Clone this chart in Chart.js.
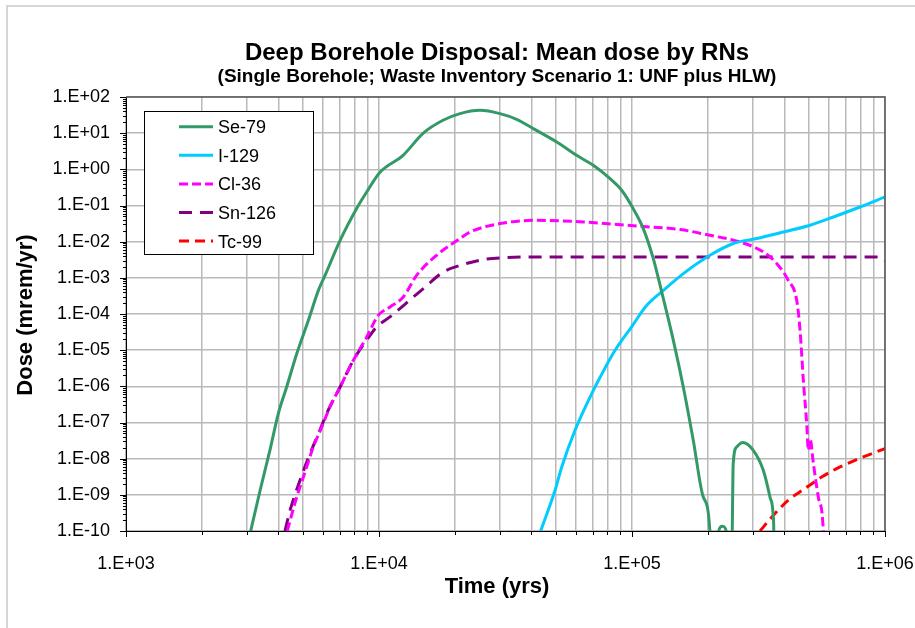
<!DOCTYPE html>
<html>
<head>
<meta charset="utf-8">
<script src="https://cdn.jsdelivr.net/npm/chart.js@4/dist/chart.umd.min.js"></script>
<style>
  html, body { margin: 0; padding: 0; background: #ffffff; }
  #wrap { width: 915px; height: 628px; }
</style>
</head>
<body>
<div id="wrap"><canvas id="c" width="915" height="628"></canvas></div>
<script>
// ---- text ----
const chartTitle = 'Deep Borehole Disposal: Mean dose by RNs';
const chartSubtitle = '(Single Borehole; Waste Inventory Scenario 1: UNF plus HLW)';
const xAxisTitle = 'Time (yrs)';
const yAxisTitle = 'Dose (mrem/yr)';
const xTickLabels = ['1.E+03', '1.E+04', '1.E+05', '1.E+06'];
const yTickLabels = ['1.E-10', '1.E-09', '1.E-08', '1.E-07', '1.E-06', '1.E-05', '1.E-04',
                     '1.E-03', '1.E-02', '1.E-01', '1.E+00', '1.E+01', '1.E+02'];
const seriesNames = ['Se-79', 'I-129', 'Cl-36', 'Sn-126', 'Tc-99'];

// ---- mean dose (mrem/yr) versus time (yrs) ----
const se79Time = [3110, 3390, 3705, 4000, 4315, 4730, 5260, 5760, 6120, 7020, 8170, 8940, 10090,
  12450, 14930, 17900, 20900, 25060, 30060, 35000, 40700, 50400, 60400, 70300, 81900, 91000,
  101100, 110800, 121400, 131000, 145600, 159500, 174700, 191300, 203400, 207000, 215000,
  219200, 228100, 236500, 240000, 246000, 249000, 251200, 259200, 273700, 301500, 330300,
  351000, 361900, 363500, 366000];
const se79Dose = [1e-10, 1.34e-9, 1.7e-8, 1.77e-7, 9.6e-7, 8e-6, 6.7e-5, 4.5e-4, 1.17e-3, 1.09e-2,
  8.4e-2, 0.236, 0.83, 2.44, 9.9, 22.7, 34.8, 42.9, 34.8, 24.2, 13.4, 5.7, 2.44, 1.29, 0.55, 0.264,
  0.082, 0.023, 3.4e-3, 4.1e-4, 1.9e-5, 9.6e-7, 3.2e-8, 8.7e-10, 9e-11, 1e-13, 1e-13,
  9e-11, 1.35e-10, 9e-11, 1e-13, 1e-13, 9e-11, 7.3e-9, 2.1e-8, 2.8e-8, 1.7e-8, 4.8e-9,
  8.7e-10, 2.4e-10, 9e-11, 1e-13];

const i129Time = [43550, 49640, 52760, 59540, 69330, 74800, 85700, 99800, 114400, 133000,
  159600, 203400, 251300, 311000, 396300, 505400, 625000, 796000, 1000000];
const i129Dose = [1e-10, 1.34e-9, 5.9e-9, 6.1e-8, 6.3e-7, 1.78e-6, 9.9e-6, 4.5e-5, 1.74e-4, 4.5e-4,
  1.31e-3, 4.2e-3, 8.9e-3, 1.22e-2, 1.85e-2, 2.84e-2, 4.8e-2, 9.1e-2, 0.172];

const cl36Time = [4340, 4730, 5025, 5500, 5940, 6400, 7020, 7910, 8940, 9930, 11050, 12470,
  14080, 16890, 20900, 22900, 30060, 42000, 64200, 104500, 155000, 203400, 267000, 330300,
  373000, 414700, 447800, 461600, 475600, 490400, 497800, 505400, 521200, 545000, 570400, 580000];
const cl36Dose = [1e-10, 8.7e-10, 3.1e-9, 2.1e-8, 7.5e-8, 2.7e-7, 9.6e-7, 5.2e-6, 2.3e-5, 9.2e-5,
  1.56e-4, 2.96e-4, 1.17e-3, 4.2e-3, 1.22e-2, 1.85e-2, 3.16e-2, 3.9e-2, 3.5e-2, 2.7e-2, 2.16e-2,
  1.5e-2, 9.8e-3, 5.2e-3, 2.5e-3, 8.5e-4, 2.4e-4, 3.5e-5, 1.47e-6, 9.3e-8, 1.7e-8, 3.6e-8,
  7.3e-9, 8.7e-10, 1e-10, 1e-12];

const sn126Time = [4250, 4450, 4870, 5340, 5840, 6210, 7020, 7910, 8940, 9790, 11050, 13680,
  14970, 17950, 20900, 25830, 30970, 40000, 960000, 1000000];
const sn126Dose = [1e-10, 3.7e-10, 2.5e-9, 1.38e-8, 6.1e-8, 1.77e-7, 9.6e-7, 5.2e-6, 1.9e-5, 4.4e-5,
  8.3e-5, 2.96e-4, 5.0e-4, 1.45e-3, 2.2e-3, 3.2e-3, 3.6e-3, 3.77e-3, 3.77e-3, 3.05e-3];

const tc99Time = [320600, 356500, 414700, 482800, 561800, 664000, 760600, 1000000];
const tc99Dose = [1e-10, 2.4e-10, 7.1e-10, 1.5e-9, 3.1e-9, 5.9e-9, 9.0e-9, 1.9e-8];

// ---- styling ----
const FONT = 'Arial, "Liberation Sans", sans-serif';
const GRID = '#b9b9b9';

function pairs(t, d) { return t.map((x, i) => ({ x: x, y: d[i] })); }
function series(name, t, d, color, dash) {
  return {
    label: name, data: pairs(t, d), borderColor: color, backgroundColor: color,
    borderWidth: 3, borderDash: dash, borderCapStyle: 'butt', borderJoinStyle: 'round',
    pointRadius: 0, pointHoverRadius: 0, fill: false, cubicInterpolationMode: 'monotone'
  };
}

function isDecade(v) {
  const l = Math.log10(v);
  return Math.abs(l - Math.round(l)) < 1e-9;
}

// tick positions: decades on the dose axis, 1..9 per decade on the time axis
const xTickValues = [];
for (let e = 3; e <= 6; e++) {
  for (let k = 1; k <= 9; k++) {
    const v = k * Math.pow(10, e);
    if (v <= 1e6) xTickValues.push(v);
  }
}
const yTickValues = [];
for (let e = -10; e <= 2; e++) yTickValues.push(Number('1e' + e));

const decorPlugin = {
  id: 'decor',
  beforeDraw(chart) {
    const ctx = chart.ctx;
    ctx.save();
    ctx.fillStyle = '#ffffff';
    ctx.fillRect(0, 0, chart.width, chart.height);
    // outer frame (left and top edges)
    ctx.strokeStyle = '#d6d6d6';
    ctx.lineWidth = 2;
    ctx.beginPath();
    ctx.moveTo(7, chart.height);
    ctx.lineTo(7, 6);
    ctx.lineTo(chart.width, 6);
    ctx.stroke();
    ctx.restore();
  },
  afterDraw(chart) {
    const ctx = chart.ctx;
    const a = chart.chartArea;
    const xs = chart.scales.x, ys = chart.scales.y;
    ctx.save();

    // plot frame top and right
    ctx.strokeStyle = '#555555';
    ctx.lineWidth = 1.5;
    ctx.beginPath();
    ctx.moveTo(a.left, a.top);
    ctx.lineTo(a.right, a.top);
    ctx.lineTo(a.right, a.bottom);
    ctx.stroke();

    // tick marks
    ctx.strokeStyle = '#000000';
    ctx.lineWidth = 1;
    ctx.beginPath();
    xTickValues.forEach(v => {
      const px = Math.round(xs.getPixelForValue(v)) + 0.5;
      const len = isDecade(v) ? 6 : 4;
      ctx.moveTo(px, a.bottom);
      ctx.lineTo(px, a.bottom + len);
    });
    for (let e = -10; e <= 2; e++) {
      for (let k = 1; k <= 9; k++) {
        const v = k * Math.pow(10, e);
        if (k > 1 && e === 2) continue;
        const py = Math.round(ys.getPixelForValue(v)) + 0.5;
        const len = k === 1 ? 6 : 3;
        ctx.moveTo(a.left, py);
        ctx.lineTo(a.left - len, py);
      }
    }
    ctx.stroke();

    // titles
    ctx.fillStyle = '#000000';
    ctx.textAlign = 'center';
    ctx.textBaseline = 'alphabetic';
    ctx.font = 'bold 24px ' + FONT;
    ctx.fillText(chartTitle, 497, 60);
    ctx.font = 'bold 19px ' + FONT;
    ctx.fillText(chartSubtitle, 497, 82);
    ctx.font = 'bold 22px ' + FONT;
    ctx.fillText(xAxisTitle, 497, 593);
    ctx.save();
    ctx.translate(32, 315);
    ctx.rotate(-Math.PI / 2);
    ctx.fillText(yAxisTitle, 0, 0);
    ctx.restore();

    // legend
    const bx = 144, by = 111, bw = 169, bh = 143;
    ctx.fillStyle = '#ffffff';
    ctx.fillRect(bx, by, bw, bh);
    ctx.strokeStyle = '#000000';
    ctx.lineWidth = 1;
    ctx.strokeRect(bx + 0.5, by + 0.5, bw, bh);
    ctx.font = '18px ' + FONT;
    ctx.textAlign = 'left';
    chart.data.datasets.forEach((ds, i) => {
      const cy = 126.7 + i * 28.6;
      ctx.save();
      ctx.strokeStyle = ds.borderColor;
      ctx.lineWidth = ds.borderWidth;
      ctx.setLineDash(ds.borderDash || []);
      ctx.lineCap = 'butt';
      ctx.beginPath();
      ctx.moveTo(179, cy);
      ctx.lineTo(213, cy);
      ctx.stroke();
      ctx.restore();
      ctx.fillStyle = '#000000';
      ctx.fillText(ds.label, 218, cy + 6.5);
    });
    ctx.restore();
  }
};

new Chart(document.getElementById('c'), {
  type: 'line',
  data: {
    datasets: [
      series(seriesNames[0], se79Time, se79Dose, '#339966', []),
      series(seriesNames[1], i129Time, i129Dose, '#00ccff', []),
      series(seriesNames[2], cl36Time, cl36Dose, '#ff00ff', [9, 4]),
      series(seriesNames[3], sn126Time, sn126Dose, '#800080', [13, 8]),
      series(seriesNames[4], tc99Time, tc99Dose, '#ff0000', [10, 6])
    ]
  },
  options: {
    responsive: false,
    animation: false,
    devicePixelRatio: 1,
    layout: { padding: { top: 97, right: 30, left: 0, bottom: 0 } },
    plugins: { legend: { display: false }, title: { display: false }, tooltip: { enabled: false } },
    scales: {
      x: {
        type: 'logarithmic', position: 'bottom', min: 1000, max: 1000000,
        grid: { color: GRID, lineWidth: 1.5, drawTicks: false },
        border: { color: '#000000', width: 1 },
        ticks: {
          autoSkip: false, maxRotation: 0, minRotation: 0, padding: 22, color: '#000000',
          font: { family: FONT, size: 18 },
          callback: v => isDecade(v) ? xTickLabels[Math.round(Math.log10(v)) - 3] : ''
        },
        afterBuildTicks: s => { s.ticks = xTickValues.map(v => ({ value: v })); },
        afterFit: s => { s.height = 97; s.paddingLeft = 0; s.paddingRight = 0; }
      },
      y: {
        type: 'logarithmic', position: 'left', min: 1e-10, max: 100,
        grid: { color: GRID, lineWidth: 1.5, drawTicks: false },
        border: { color: '#000000', width: 1 },
        ticks: {
          autoSkip: false, padding: 16, color: '#000000',
          font: { family: FONT, size: 18 },
          callback: v => yTickLabels[Math.round(Math.log10(v)) + 10]
        },
        afterBuildTicks: s => { s.ticks = yTickValues.map(v => ({ value: v })); },
        afterFit: s => { s.width = 126; s.paddingTop = 0; s.paddingBottom = 0; }
      }
    }
  },
  plugins: [decorPlugin]
});
</script>
</body>
</html>
